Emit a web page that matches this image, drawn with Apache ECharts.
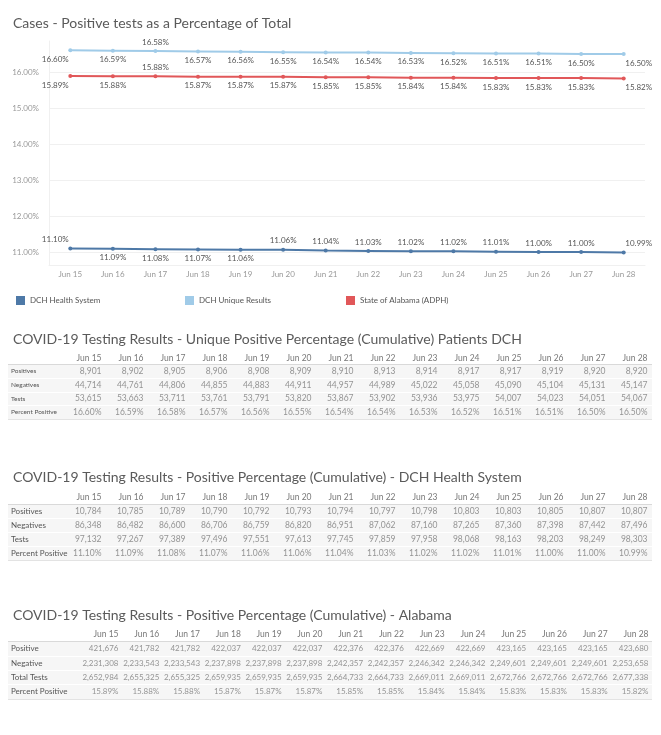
<!DOCTYPE html>
<html><head><meta charset="utf-8">
<script src="https://cdn.jsdelivr.net/npm/echarts@6/dist/echarts.min.js"></script>
<style>html,body{margin:0;padding:0;background:#fff}#c{width:661px;height:735px}</style>
</head><body><div id="c"></div><script>
// ---------- DATA ----------
const dates = ['Jun 15','Jun 16','Jun 17','Jun 18','Jun 19','Jun 20','Jun 21','Jun 22','Jun 23','Jun 24','Jun 25','Jun 26','Jun 27','Jun 28'];
const yTicks = [11, 12, 13, 14, 15, 16];
const seriesNames = ['DCH Health System', 'DCH Unique Results', 'State of Alabama (ADPH)'];

const uniquePositives = [8901,8902,8905,8906,8908,8909,8910,8913,8914,8917,8917,8919,8920,8920];
const uniqueNegatives = [44714,44761,44806,44855,44883,44911,44957,44989,45022,45058,45090,45104,45131,45147];
const uniqueTests = [53615,53663,53711,53761,53791,53820,53867,53902,53936,53975,54007,54023,54051,54067];
const uniquePct = [16.60,16.59,16.58,16.57,16.56,16.55,16.54,16.54,16.53,16.52,16.51,16.51,16.50,16.50];

const dchPositives = [10784,10785,10789,10790,10792,10793,10794,10797,10798,10803,10803,10805,10807,10807];
const dchNegatives = [86348,86482,86600,86706,86759,86820,86951,87062,87160,87265,87360,87398,87442,87496];
const dchTests = [97132,97267,97389,97496,97551,97613,97745,97859,97958,98068,98163,98203,98249,98303];
const dchPct = [11.10,11.09,11.08,11.07,11.06,11.06,11.04,11.03,11.02,11.02,11.01,11.00,11.00,10.99];

const alPositive = [421676,421782,421782,422037,422037,422037,422376,422376,422669,422669,423165,423165,423165,423680];
const alNegative = [2231308,2233543,2233543,2237898,2237898,2237898,2242357,2242357,2246342,2246342,2249601,2249601,2249601,2253658];
const alTests = [2652984,2655325,2655325,2659935,2659935,2659935,2664733,2664733,2669011,2669011,2672766,2672766,2672766,2677338];
const alPct = [15.89,15.88,15.88,15.87,15.87,15.87,15.85,15.85,15.84,15.84,15.83,15.83,15.83,15.82];

const rowNamesA = ['Positives','Negatives','Tests','Percent Positive'];
const rowNamesC = ['Positive','Negative','Total Tests','Percent Positive'];

const titles = [
  'Cases - Positive tests as a Percentage of Total',
  'COVID-19 Testing Results - Unique Positive Percentage (Cumulative) Patients DCH',
  'COVID-19 Testing Results - Positive Percentage (Cumulative) - DCH Health System',
  'COVID-19 Testing Results - Positive Percentage (Cumulative) - Alabama'
];

// ---------- STYLE / LAYOUT ----------
const FONT = 'Lato, "Open Sans", sans-serif';
const colors = ['#4e79a7', '#a0cbe8', '#e15759'];
const T = 'top', B = 'bottom';
const posDch = [T,B,B,B,B,T,T,T,T,T,T,T,T,T];
const posUnique = [B,B,T,B,B,B,B,B,B,B,B,B,B,B];
const posAl = [B,B,T,B,B,B,B,B,B,B,B,B,B,B];

const fmtPct = v => v.toFixed(2) + '%';
const fmtNum = v => v.toLocaleString('en-US');

function lineData(values, pos) {
  const n = values.length;
  return values.map((v, i) => ({
    value: v,
    label: { position: pos[i], offset: i === 0 ? [-15, 0] : (i === n - 1 ? [15, 0] : [0, 0]) }
  }));
}

function lineSeries(name, values, pos, color) {
  return {
    name, type: 'line', xAxisIndex: 0, yAxisIndex: 0,
    data: lineData(values, pos),
    symbol: 'circle', symbolSize: 4,
    lineStyle: { width: 2, color }, itemStyle: { color },
    label: { show: true, formatter: p => fmtPct(p.value), fontSize: 8, color: '#555', distance: 3, fontFamily: FONT },
    animation: false, silent: true
  };
}

// table column mapping (right edges of first/last column in px)
const tableGrids = [
  { top: 351, height: 68, first: 102, last: 648, rowNames: rowNamesA, rowFont: 6.5, valFont: 8.5, rows: [uniquePositives, uniqueNegatives, uniqueTests, uniquePct] },
  { top: 490, height: 70, first: 102, last: 648, rowNames: rowNamesA, rowFont: 8, valFont: 8.5, rows: [dchPositives, dchNegatives, dchTests, dchPct] },
  { top: 627, height: 72, first: 119, last: 649, rowNames: rowNamesC, rowFont: 8, valFont: 8, rows: [alPositive, alNegative, alTests, alPct] }
];
const GL = 8, GW = 644;

const option = {
  animation: false,
  textStyle: { fontFamily: FONT },
  title: [
    { text: titles[0], left: 8, top: 11 },
    { text: titles[1], left: 8, top: 327 },
    { text: titles[2], left: 8, top: 465 },
    { text: titles[3], left: 8, top: 603 }
  ].map(t => Object.assign(t, { textStyle: { fontSize: 14, fontWeight: 'normal', color: '#5a5a5a', fontFamily: FONT } })),
  legend: [
    { left: 11, name: 0 }, { left: 180, name: 1 }, { left: 341, name: 2 }
  ].map(l => ({
    left: l.left, top: 291, data: [seriesNames[l.name]], icon: 'rect', itemWidth: 9, itemHeight: 9,
    textStyle: { fontSize: 8, color: '#555', fontFamily: FONT }, selectedMode: false
  })),
  grid: [{ left: 49, width: 596, top: 41, height: 224 }],
  xAxis: [{
    gridIndex: 0, type: 'category', data: dates, boundaryGap: true,
    axisLabel: { color: '#999', fontSize: 8, margin: 5, fontFamily: FONT },
    axisTick: { show: false }, axisLine: { lineStyle: { color: '#f0f0f0' } }
  }],
  yAxis: [{
    gridIndex: 0, type: 'value', min: 10.64, max: 16.86,
    axisLabel: { customValues: yTicks, formatter: v => fmtPct(v), color: '#999', fontSize: 8, margin: 10, fontFamily: FONT },
    axisTick: { show: false, customValues: yTicks },
    splitLine: { show: true, lineStyle: { color: '#f0f0f0' } },
    axisLine: { show: true, lineStyle: { color: '#f0f0f0' } }
  }],
  series: [
    lineSeries(seriesNames[1], uniquePct, posUnique, colors[1]),
    lineSeries(seriesNames[2], alPct, posAl, colors[2]),
    lineSeries(seriesNames[0], dchPct, posDch, colors[0])
  ]
};

tableGrids.forEach((tg, k) => {
  const gi = option.grid.length;
  const step = (tg.last - tg.first) / (dates.length - 1);
  const min = -(tg.first - GL) / step;
  const max = min + GW / step;
  option.grid.push({ left: GL, width: GW, top: tg.top, height: tg.height });
  option.xAxis.push({ gridIndex: gi, type: 'value', min, max, show: false });
  option.yAxis.push({
    gridIndex: gi, type: 'category', inverse: true, data: [''].concat(tg.rowNames),
    axisLabel: { inside: true, margin: 3, fontSize: tg.rowFont, color: '#555', fontFamily: FONT },
    axisTick: { show: false }, axisLine: { show: false },
    splitArea: { show: true, areaStyle: { color: ['#ffffff', '#f6f6f6', '#f6f6f6', '#f6f6f6', '#f6f6f6'] } },
    splitLine: { show: true, lineStyle: { width: 1, color: ['rgba(0,0,0,0)', '#d9d9d9', '#ffffff', '#ffffff', '#ffffff', '#e3e3e3'] } }
  });
  // header row
  option.series.push({
    type: 'scatter', xAxisIndex: gi, yAxisIndex: gi, symbolSize: 1,
    itemStyle: { color: 'rgba(0,0,0,0)' }, silent: true,
    data: dates.map((d, i) => [i, 0]),
    label: { show: true, position: 'left', distance: 0, formatter: p => dates[p.dataIndex], fontSize: 8.5, color: '#555', fontFamily: FONT }
  });
  // cells
  const cells = [];
  tg.rows.forEach((vals, r) => vals.forEach((v, i) => cells.push([i, r + 1, v])));
  option.series.push({
    type: 'scatter', xAxisIndex: gi, yAxisIndex: gi, symbolSize: 1,
    itemStyle: { color: 'rgba(0,0,0,0)' }, silent: true,
    data: cells,
    label: { show: true, position: 'left', distance: 0, fontSize: tg.valFont, color: '#7a7a7a', fontFamily: FONT,
      formatter: p => p.value[1] === 4 ? fmtPct(p.value[2]) : fmtNum(p.value[2]) }
  });
});

const chart = echarts.init(document.getElementById('c'), null, { renderer: 'canvas' });
chart.setOption(option);
</script></body></html>
